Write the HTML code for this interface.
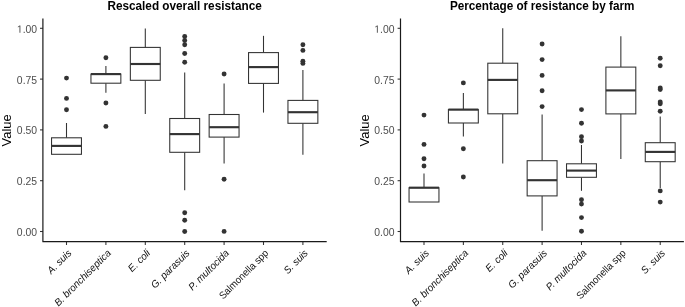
<!DOCTYPE html>
<html><head><meta charset="utf-8"><style>
html,body{margin:0;padding:0;background:#fff;}
svg{display:block;will-change:transform;}
text{font-family:"Liberation Sans",sans-serif;}
.t{font-size:12px;font-weight:bold;fill:#000;}
.yl{font-size:12.9px;fill:#000;}
.yt{font-size:10.4px;fill:#4d4d4d;}
.xt{fill:#111;}
.b{stroke:#333333;stroke-width:1.07;}
.m{stroke:#333333;stroke-width:2.14;}
.tk{stroke:#333;stroke-width:1.07;}
.ax{stroke:#1a1a1a;stroke-width:1.2;stroke-linecap:butt;stroke-linejoin:round;}
</style></head><body>
<svg width="685" height="307" viewBox="0 0 685 307">
<text x="184.6" y="10.2" class="t" text-anchor="middle" textLength="154.3" lengthAdjust="spacingAndGlyphs">Rescaled overall resistance</text>
<text transform="translate(10.8,130.4) rotate(-90)" class="yl" text-anchor="middle">Value</text>
<line x1="40" y1="231.5" x2="42.9" y2="231.5" class="tk"/>
<text x="37.1" y="235.9" class="yt" text-anchor="end">0.00</text>
<line x1="40" y1="180.7" x2="42.9" y2="180.7" class="tk"/>
<text x="37.1" y="185.1" class="yt" text-anchor="end">0.25</text>
<line x1="40" y1="129.9" x2="42.9" y2="129.9" class="tk"/>
<text x="37.1" y="134.3" class="yt" text-anchor="end">0.50</text>
<line x1="40" y1="79.1" x2="42.9" y2="79.1" class="tk"/>
<text x="37.1" y="83.5" class="yt" text-anchor="end">0.75</text>
<line x1="40" y1="28.3" x2="42.9" y2="28.3" class="tk"/>
<path transform="translate(16.86,32.7) scale(0.005078,-0.005078)" d="M515 0V1237L197 1010V1180L530 1409H696V0Z" fill="#4d4d4d"/>
<text x="37.1" y="32.7" class="yt" text-anchor="end">.00</text>
<line x1="66.5" y1="123" x2="66.5" y2="137.8" class="b"/>
<rect x="51.55" y="137.8" width="29.9" height="16.5" class="b" fill="#fff"/>
<line x1="51.55" y1="145.9" x2="81.45" y2="145.9" class="m"/>
<circle cx="66.5" cy="78.1" r="2.45" fill="#333333"/>
<circle cx="66.5" cy="98.4" r="2.45" fill="#333333"/>
<circle cx="66.5" cy="109.8" r="2.45" fill="#333333"/>
<line x1="105.9" y1="66" x2="105.9" y2="74.1" class="b"/>
<line x1="105.9" y1="83.2" x2="105.9" y2="92.7" class="b"/>
<rect x="90.95" y="74.1" width="29.9" height="9.1" class="b" fill="#fff"/>
<line x1="90.95" y1="74.1" x2="120.85" y2="74.1" class="m"/>
<circle cx="105.9" cy="57.8" r="2.45" fill="#333333"/>
<circle cx="105.9" cy="103" r="2.45" fill="#333333"/>
<circle cx="105.9" cy="126.4" r="2.45" fill="#333333"/>
<line x1="145.3" y1="28.4" x2="145.3" y2="47.4" class="b"/>
<line x1="145.3" y1="80.3" x2="145.3" y2="113.9" class="b"/>
<rect x="130.35" y="47.4" width="29.9" height="32.9" class="b" fill="#fff"/>
<line x1="130.35" y1="64" x2="160.25" y2="64" class="m"/>
<line x1="184.7" y1="72.4" x2="184.7" y2="118.5" class="b"/>
<line x1="184.7" y1="152.3" x2="184.7" y2="190.2" class="b"/>
<rect x="169.75" y="118.5" width="29.9" height="33.8" class="b" fill="#fff"/>
<line x1="169.75" y1="134.1" x2="199.65" y2="134.1" class="m"/>
<circle cx="184.7" cy="36.45" r="2.45" fill="#333333"/>
<circle cx="184.7" cy="40.5" r="2.45" fill="#333333"/>
<circle cx="184.7" cy="44.75" r="2.45" fill="#333333"/>
<circle cx="184.7" cy="53.5" r="2.45" fill="#333333"/>
<circle cx="184.7" cy="62.3" r="2.45" fill="#333333"/>
<circle cx="184.7" cy="212.8" r="2.45" fill="#333333"/>
<circle cx="184.7" cy="220.3" r="2.45" fill="#333333"/>
<circle cx="184.7" cy="231.5" r="2.45" fill="#333333"/>
<line x1="224.1" y1="83.4" x2="224.1" y2="114.5" class="b"/>
<line x1="224.1" y1="137.1" x2="224.1" y2="163.4" class="b"/>
<rect x="209.15" y="114.5" width="29.9" height="22.6" class="b" fill="#fff"/>
<line x1="209.15" y1="127.2" x2="239.05" y2="127.2" class="m"/>
<circle cx="224.1" cy="74" r="2.45" fill="#333333"/>
<circle cx="224.1" cy="179.2" r="2.45" fill="#333333"/>
<circle cx="224.1" cy="231.4" r="2.45" fill="#333333"/>
<line x1="263.5" y1="35.85" x2="263.5" y2="52.6" class="b"/>
<line x1="263.5" y1="83.4" x2="263.5" y2="112.6" class="b"/>
<rect x="248.55" y="52.6" width="29.9" height="30.8" class="b" fill="#fff"/>
<line x1="248.55" y1="67.1" x2="278.45" y2="67.1" class="m"/>
<line x1="302.9" y1="70.1" x2="302.9" y2="100.4" class="b"/>
<line x1="302.9" y1="123.3" x2="302.9" y2="154.7" class="b"/>
<rect x="287.95" y="100.4" width="29.9" height="22.9" class="b" fill="#fff"/>
<line x1="287.95" y1="112.2" x2="317.85" y2="112.2" class="m"/>
<circle cx="302.9" cy="44.7" r="2.45" fill="#333333"/>
<circle cx="302.9" cy="50.4" r="2.45" fill="#333333"/>
<circle cx="302.9" cy="61.2" r="2.45" fill="#333333"/>
<circle cx="302.9" cy="63.4" r="2.45" fill="#333333"/>
<line x1="66.5" y1="241" x2="66.5" y2="245" class="tk"/>
<text transform="translate(72.1,253.7) rotate(-45)" class="xt" text-anchor="end" font-size="10.2" textLength="29.39" lengthAdjust="spacingAndGlyphs"><tspan font-style="italic">A. suis</tspan></text>
<line x1="105.9" y1="241" x2="105.9" y2="245" class="tk"/>
<text transform="translate(111.5,253.7) rotate(-45)" class="xt" text-anchor="end" font-size="10.2" textLength="75.12" lengthAdjust="spacingAndGlyphs"><tspan font-style="italic">B. bronchiseptica</tspan></text>
<line x1="145.3" y1="241" x2="145.3" y2="245" class="tk"/>
<text transform="translate(150.9,253.7) rotate(-45)" class="xt" text-anchor="end" font-size="10.2" textLength="26.66" lengthAdjust="spacingAndGlyphs"><tspan font-style="italic">E. coli</tspan></text>
<line x1="184.7" y1="241" x2="184.7" y2="245" class="tk"/>
<text transform="translate(190.3,253.7) rotate(-45)" class="xt" text-anchor="end" font-size="10.2" textLength="50.07" lengthAdjust="spacingAndGlyphs"><tspan font-style="italic">G. parasuis</tspan></text>
<line x1="224.1" y1="241" x2="224.1" y2="245" class="tk"/>
<text transform="translate(229.7,253.7) rotate(-45)" class="xt" text-anchor="end" font-size="10.2" textLength="52.62" lengthAdjust="spacingAndGlyphs"><tspan font-style="italic">P. multocida</tspan></text>
<line x1="263.5" y1="241" x2="263.5" y2="245" class="tk"/>
<text transform="translate(269.1,253.7) rotate(-45)" class="xt" text-anchor="end" font-size="10.2" textLength="65.0" lengthAdjust="spacingAndGlyphs">Salmonella spp</text>
<line x1="302.9" y1="241" x2="302.9" y2="245" class="tk"/>
<text transform="translate(308.5,253.7) rotate(-45)" class="xt" text-anchor="end" font-size="10.2" textLength="29.39" lengthAdjust="spacingAndGlyphs"><tspan font-style="italic">S. suis</tspan></text>
<path d="M42.9 18.5 V241.65 H326.7" class="ax" fill="none"/>
<text x="542.2" y="10.2" class="t" text-anchor="middle" textLength="184.6" lengthAdjust="spacingAndGlyphs">Percentage of resistance by farm</text>
<text transform="translate(368.5,130.4) rotate(-90)" class="yl" text-anchor="middle">Value</text>
<line x1="397.6" y1="231.5" x2="400.5" y2="231.5" class="tk"/>
<text x="394.5" y="235.9" class="yt" text-anchor="end">0.00</text>
<line x1="397.6" y1="180.7" x2="400.5" y2="180.7" class="tk"/>
<text x="394.5" y="185.1" class="yt" text-anchor="end">0.25</text>
<line x1="397.6" y1="129.9" x2="400.5" y2="129.9" class="tk"/>
<text x="394.5" y="134.3" class="yt" text-anchor="end">0.50</text>
<line x1="397.6" y1="79.1" x2="400.5" y2="79.1" class="tk"/>
<text x="394.5" y="83.5" class="yt" text-anchor="end">0.75</text>
<line x1="397.6" y1="28.3" x2="400.5" y2="28.3" class="tk"/>
<path transform="translate(374.26,32.7) scale(0.005078,-0.005078)" d="M515 0V1237L197 1010V1180L530 1409H696V0Z" fill="#4d4d4d"/>
<text x="394.5" y="32.7" class="yt" text-anchor="end">.00</text>
<line x1="424" y1="173.4" x2="424" y2="187.7" class="b"/>
<rect x="409.05" y="187.7" width="29.9" height="14.3" class="b" fill="#fff"/>
<line x1="409.05" y1="187.7" x2="438.95" y2="187.7" class="m"/>
<circle cx="424" cy="115.1" r="2.45" fill="#333333"/>
<circle cx="424" cy="144.4" r="2.45" fill="#333333"/>
<circle cx="424" cy="158.8" r="2.45" fill="#333333"/>
<circle cx="424" cy="166" r="2.45" fill="#333333"/>
<line x1="463.37" y1="93" x2="463.37" y2="109.6" class="b"/>
<line x1="463.37" y1="123" x2="463.37" y2="136.5" class="b"/>
<rect x="448.42" y="109.6" width="29.9" height="13.4" class="b" fill="#fff"/>
<line x1="448.42" y1="109.6" x2="478.32" y2="109.6" class="m"/>
<circle cx="463.37" cy="82.9" r="2.45" fill="#333333"/>
<circle cx="463.37" cy="148.7" r="2.45" fill="#333333"/>
<circle cx="463.37" cy="177" r="2.45" fill="#333333"/>
<line x1="502.74" y1="28.2" x2="502.74" y2="63.2" class="b"/>
<line x1="502.74" y1="113.8" x2="502.74" y2="163.5" class="b"/>
<rect x="487.79" y="63.2" width="29.9" height="50.6" class="b" fill="#fff"/>
<line x1="487.79" y1="79.9" x2="517.69" y2="79.9" class="m"/>
<line x1="542.11" y1="114.4" x2="542.11" y2="160.7" class="b"/>
<line x1="542.11" y1="195.9" x2="542.11" y2="230.8" class="b"/>
<rect x="527.16" y="160.7" width="29.9" height="35.2" class="b" fill="#fff"/>
<line x1="527.16" y1="180.2" x2="557.06" y2="180.2" class="m"/>
<circle cx="542.11" cy="44" r="2.45" fill="#333333"/>
<circle cx="542.11" cy="59.6" r="2.45" fill="#333333"/>
<circle cx="542.11" cy="75.4" r="2.45" fill="#333333"/>
<circle cx="542.11" cy="90.8" r="2.45" fill="#333333"/>
<circle cx="542.11" cy="106.6" r="2.45" fill="#333333"/>
<line x1="581.48" y1="145" x2="581.48" y2="163.8" class="b"/>
<line x1="581.48" y1="177.3" x2="581.48" y2="190.8" class="b"/>
<rect x="566.53" y="163.8" width="29.9" height="13.5" class="b" fill="#fff"/>
<line x1="566.53" y1="170.6" x2="596.43" y2="170.6" class="m"/>
<circle cx="581.48" cy="109.6" r="2.45" fill="#333333"/>
<circle cx="581.48" cy="123.3" r="2.45" fill="#333333"/>
<circle cx="581.48" cy="136.8" r="2.45" fill="#333333"/>
<circle cx="581.48" cy="141" r="2.45" fill="#333333"/>
<circle cx="581.48" cy="199.7" r="2.45" fill="#333333"/>
<circle cx="581.48" cy="204.1" r="2.45" fill="#333333"/>
<circle cx="581.48" cy="217.6" r="2.45" fill="#333333"/>
<circle cx="581.48" cy="231.2" r="2.45" fill="#333333"/>
<line x1="620.85" y1="36.3" x2="620.85" y2="67.1" class="b"/>
<line x1="620.85" y1="113.9" x2="620.85" y2="159" class="b"/>
<rect x="605.9" y="67.1" width="29.9" height="46.8" class="b" fill="#fff"/>
<line x1="605.9" y1="90.4" x2="635.8" y2="90.4" class="m"/>
<line x1="660.22" y1="116.5" x2="660.22" y2="142.7" class="b"/>
<line x1="660.22" y1="161.7" x2="660.22" y2="188" class="b"/>
<rect x="645.27" y="142.7" width="29.9" height="19" class="b" fill="#fff"/>
<line x1="645.27" y1="151.9" x2="675.17" y2="151.9" class="m"/>
<circle cx="660.22" cy="58.3" r="2.45" fill="#333333"/>
<circle cx="660.22" cy="65.7" r="2.45" fill="#333333"/>
<circle cx="660.22" cy="87.9" r="2.45" fill="#333333"/>
<circle cx="660.22" cy="89.5" r="2.45" fill="#333333"/>
<circle cx="660.22" cy="101.9" r="2.45" fill="#333333"/>
<circle cx="660.22" cy="103.7" r="2.45" fill="#333333"/>
<circle cx="660.22" cy="111.2" r="2.45" fill="#333333"/>
<circle cx="660.22" cy="190.9" r="2.45" fill="#333333"/>
<circle cx="660.22" cy="202.1" r="2.45" fill="#333333"/>
<line x1="424" y1="241" x2="424" y2="245" class="tk"/>
<text transform="translate(429.6,253.7) rotate(-45)" class="xt" text-anchor="end" font-size="10.2" textLength="29.39" lengthAdjust="spacingAndGlyphs"><tspan font-style="italic">A. suis</tspan></text>
<line x1="463.37" y1="241" x2="463.37" y2="245" class="tk"/>
<text transform="translate(468.97,253.7) rotate(-45)" class="xt" text-anchor="end" font-size="10.2" textLength="75.12" lengthAdjust="spacingAndGlyphs"><tspan font-style="italic">B. bronchiseptica</tspan></text>
<line x1="502.74" y1="241" x2="502.74" y2="245" class="tk"/>
<text transform="translate(508.34,253.7) rotate(-45)" class="xt" text-anchor="end" font-size="10.2" textLength="26.66" lengthAdjust="spacingAndGlyphs"><tspan font-style="italic">E. coli</tspan></text>
<line x1="542.11" y1="241" x2="542.11" y2="245" class="tk"/>
<text transform="translate(547.71,253.7) rotate(-45)" class="xt" text-anchor="end" font-size="10.2" textLength="50.07" lengthAdjust="spacingAndGlyphs"><tspan font-style="italic">G. parasuis</tspan></text>
<line x1="581.48" y1="241" x2="581.48" y2="245" class="tk"/>
<text transform="translate(587.08,253.7) rotate(-45)" class="xt" text-anchor="end" font-size="10.2" textLength="52.62" lengthAdjust="spacingAndGlyphs"><tspan font-style="italic">P. multocida</tspan></text>
<line x1="620.85" y1="241" x2="620.85" y2="245" class="tk"/>
<text transform="translate(626.45,253.7) rotate(-45)" class="xt" text-anchor="end" font-size="10.2" textLength="65.0" lengthAdjust="spacingAndGlyphs">Salmonella spp</text>
<line x1="660.22" y1="241" x2="660.22" y2="245" class="tk"/>
<text transform="translate(665.82,253.7) rotate(-45)" class="xt" text-anchor="end" font-size="10.2" textLength="29.39" lengthAdjust="spacingAndGlyphs"><tspan font-style="italic">S. suis</tspan></text>
<path d="M400.5 18.5 V241.65 H683.9" class="ax" fill="none"/>
</svg>
</body></html>
